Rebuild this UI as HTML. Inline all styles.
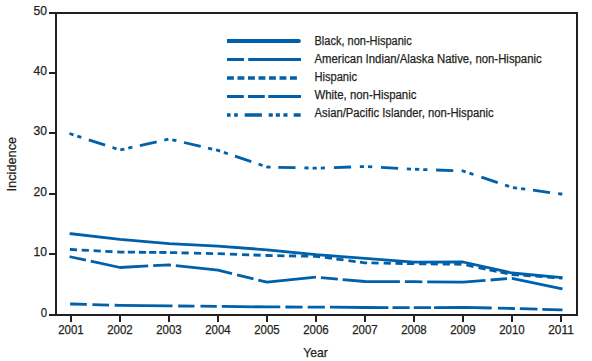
<!DOCTYPE html>
<html><head><meta charset="utf-8"><style>
html,body{margin:0;padding:0;background:#fff;}
svg{display:block;}
.t{font-family:"Liberation Sans",sans-serif;font-size:12.5px;fill:#231f20;stroke:#231f20;stroke-width:0.25px;}
</style></head><body>
<svg width="592" height="361" viewBox="0 0 592 361">
<rect x="0" y="0" width="592" height="361" fill="#fff"/>
<rect x="49" y="12" width="529" height="2" fill="#231f20"/>
<rect x="49" y="314" width="529" height="2" fill="#231f20"/>
<rect x="55" y="12" width="2" height="304" fill="#231f20"/>
<rect x="576" y="12" width="2" height="304" fill="#231f20"/>
<rect x="49" y="72" width="7" height="2" fill="#231f20"/><rect x="49" y="132" width="7" height="2" fill="#231f20"/><rect x="49" y="193" width="7" height="2" fill="#231f20"/><rect x="49" y="253" width="7" height="2" fill="#231f20"/><rect x="70" y="316" width="2" height="6" fill="#231f20"/><rect x="119" y="316" width="2" height="6" fill="#231f20"/><rect x="168" y="316" width="2" height="6" fill="#231f20"/><rect x="217" y="316" width="2" height="6" fill="#231f20"/><rect x="266" y="316" width="2" height="6" fill="#231f20"/><rect x="315" y="316" width="2" height="6" fill="#231f20"/><rect x="364" y="316" width="2" height="6" fill="#231f20"/><rect x="413" y="316" width="2" height="6" fill="#231f20"/><rect x="462" y="316" width="2" height="6" fill="#231f20"/><rect x="511" y="316" width="2" height="6" fill="#231f20"/><rect x="560" y="316" width="2" height="6" fill="#231f20"/><text x="47" y="15" text-anchor="end" class="t" textLength="13.5" lengthAdjust="spacingAndGlyphs">50</text><text x="47" y="75" text-anchor="end" class="t" textLength="13.5" lengthAdjust="spacingAndGlyphs">40</text><text x="47" y="135" text-anchor="end" class="t" textLength="13.5" lengthAdjust="spacingAndGlyphs">30</text><text x="47" y="196" text-anchor="end" class="t" textLength="13.5" lengthAdjust="spacingAndGlyphs">20</text><text x="47" y="256" text-anchor="end" class="t" textLength="13.5" lengthAdjust="spacingAndGlyphs">10</text><text x="47" y="317" text-anchor="end" class="t" textLength="6.3" lengthAdjust="spacingAndGlyphs">0</text><text x="71" y="334" text-anchor="middle" class="t" textLength="25.5" lengthAdjust="spacingAndGlyphs">2001</text><text x="120" y="334" text-anchor="middle" class="t" textLength="25.5" lengthAdjust="spacingAndGlyphs">2002</text><text x="169" y="334" text-anchor="middle" class="t" textLength="25.5" lengthAdjust="spacingAndGlyphs">2003</text><text x="218" y="334" text-anchor="middle" class="t" textLength="25.5" lengthAdjust="spacingAndGlyphs">2004</text><text x="267" y="334" text-anchor="middle" class="t" textLength="25.5" lengthAdjust="spacingAndGlyphs">2005</text><text x="316" y="334" text-anchor="middle" class="t" textLength="25.5" lengthAdjust="spacingAndGlyphs">2006</text><text x="365" y="334" text-anchor="middle" class="t" textLength="25.5" lengthAdjust="spacingAndGlyphs">2007</text><text x="414" y="334" text-anchor="middle" class="t" textLength="25.5" lengthAdjust="spacingAndGlyphs">2008</text><text x="463" y="334" text-anchor="middle" class="t" textLength="25.5" lengthAdjust="spacingAndGlyphs">2009</text><text x="512" y="334" text-anchor="middle" class="t" textLength="25.5" lengthAdjust="spacingAndGlyphs">2010</text><text x="561" y="334" text-anchor="middle" class="t" textLength="25.5" lengthAdjust="spacingAndGlyphs">2011</text>
<text x="315.5" y="356.7" text-anchor="middle" class="t" style="font-size:13.3px" textLength="24.7" lengthAdjust="spacingAndGlyphs">Year</text>
<text transform="translate(16,191.5) rotate(-90)" x="0" y="0" class="t" style="font-size:13.2px" textLength="54.7" lengthAdjust="spacingAndGlyphs">Incidence</text>
<polyline points="69.50,303.96 71.00,304.00 120.00,305.40 169.00,305.90 218.00,306.40 267.00,306.90 316.00,307.10 365.00,307.50 414.00,307.70 463.00,307.30 512.00,308.50 561.00,309.80 562.50,309.84" fill="none" stroke="#0060aa" stroke-width="2.8" stroke-linejoin="round" stroke-dasharray="0.00,0.60,16.71,5.60,16.71,5.60,57.80,5.70,16.30,6.00,16.30,5.00,58.50,5.10,17.20,5.10,17.20,5.10,58.40,4.10,17.20,4.10,17.20,3.10,57.61,6.20,17.11,4.80,17.71,4.80,20.21,50.00"/><polyline points="69.50,256.68 71.00,257.00 120.00,267.50 169.00,264.80 218.00,270.10 267.00,282.20 316.00,277.20 365.00,281.50 414.00,281.70 463.00,282.20 512.00,278.30 561.00,288.60 562.50,288.92" fill="none" stroke="#0060aa" stroke-width="2.8" stroke-linejoin="round" stroke-dasharray="0.00,0.10,16.77,4.91,58.11,5.01,17.84,4.83,56.87,5.15,17.00,4.94,58.12,5.02,16.96,4.82,57.39,5.00,17.50,4.80,58.37,5.02,16.55,4.82,51.80,50.00"/><polyline points="69.50,249.42 71.00,249.50 120.00,252.10 169.00,252.50 218.00,253.70 267.00,255.50 316.00,256.30 365.00,262.80 414.00,263.70 463.00,264.30 512.00,274.60 561.00,278.00 562.50,278.10" fill="none" stroke="#0060aa" stroke-width="2.8" stroke-linejoin="round" stroke-dasharray="0.00,0.40,7.21,4.61,7.21,4.71,7.21,4.51,7.21,4.71,7.20,3.40,7.20,3.90,7.20,3.00,7.20,2.90,7.20,3.60,7.20,4.30,7.20,5.30,7.20,4.70,7.20,4.60,7.20,5.00,7.20,4.90,7.20,4.30,7.20,4.80,7.20,4.60,7.20,4.50,7.20,4.90,7.20,4.70,7.24,4.74,7.26,4.34,7.26,4.94,7.26,4.34,7.24,4.30,7.20,5.00,7.20,4.60,7.20,4.30,7.20,5.00,7.20,4.30,7.20,4.90,7.20,4.30,7.20,4.97,7.36,5.01,7.36,3.88,7.36,3.88,7.36,4.19,7.22,4.61,7.22,4.71,7.22,4.61,7.22,4.61,3.41,50.00"/><polyline points="71.00,233.70 120.00,239.30 169.00,243.70 218.00,246.20 267.00,249.80 316.00,254.70 365.00,258.30 414.00,262.10 463.00,262.00 512.00,273.00 561.00,277.50" fill="none" stroke="#0060aa" stroke-width="2.8" stroke-linejoin="round" stroke-linecap="square"/><polyline points="69.50,133.51 71.00,134.00 120.00,150.00 169.00,139.00 218.00,150.40 267.00,167.00 316.00,168.20 365.00,166.50 414.00,169.20 463.00,171.00 512.00,187.40 561.00,194.00 562.50,194.20" fill="none" stroke="#0060aa" stroke-width="2.8" stroke-linejoin="round" stroke-dasharray="4.20,4.00,4.20,7.90,17.20,7.71,4.20,4.00,4.20,4.00,4.20,7.71,17.20,7.81,4.20,4.00,4.20,7.81,17.20,7.53,4.20,4.00,4.20,4.00,4.20,7.53,17.20,7.74,4.20,4.00,4.20,7.74,17.20,8.91,4.20,4.00,4.20,4.00,4.20,8.91,17.20,8.77,4.20,4.00,4.20,8.77,17.20,8.68,4.20,4.00,4.20,4.00,4.20,8.68,17.20,8.36,4.20,4.00,4.20,8.36,17.20,7.83,4.20,4.00,4.20,4.00,4.20,7.83,17.20,8.20,4.20,4.00,4.20,100.00"/>
<line x1="227" y1="41" x2="299" y2="41" stroke="#0060aa" stroke-width="3.8" stroke-linecap="butt"/><circle cx="299" cy="41" r="1.9" fill="#0060aa"/><text x="314.5" y="45" class="t" textLength="97.3" lengthAdjust="spacingAndGlyphs">Black, non-Hispanic</text><line x1="227" y1="59.5" x2="301" y2="59.5" stroke="#0060aa" stroke-width="3" stroke-dasharray="17,4.2,60"/><text x="314.5" y="63" class="t" textLength="227.2" lengthAdjust="spacingAndGlyphs">American Indian/Alaska Native, non-Hispanic</text><line x1="227" y1="78" x2="301" y2="78" stroke="#0060aa" stroke-width="3.6" stroke-dasharray="6.9,3.6,6.9,3.6,6.9,3.6,6.9,3.6,6.9,3.6,6.9,3.6,6.9,20"/><text x="314.5" y="81" class="t" textLength="42.5" lengthAdjust="spacingAndGlyphs">Hispanic</text><line x1="227" y1="96.5" x2="301" y2="96.5" stroke="#0060aa" stroke-width="3" stroke-dasharray="16.8,4.2,16.8,3.5,60"/><text x="314.5" y="99" class="t" textLength="101.9" lengthAdjust="spacingAndGlyphs">White, non-Hispanic</text><line x1="227" y1="115" x2="301" y2="115" stroke="#0060aa" stroke-width="3.5" stroke-dasharray="3.6,3.5,3.7,6.9,17.2,6.8,4.1,3,4.1,3.5,4.1,6.2,7,10"/><text x="314.5" y="117" class="t" textLength="179.2" lengthAdjust="spacingAndGlyphs">Asian/Pacific Islander, non-Hispanic</text>
</svg>
</body></html>
